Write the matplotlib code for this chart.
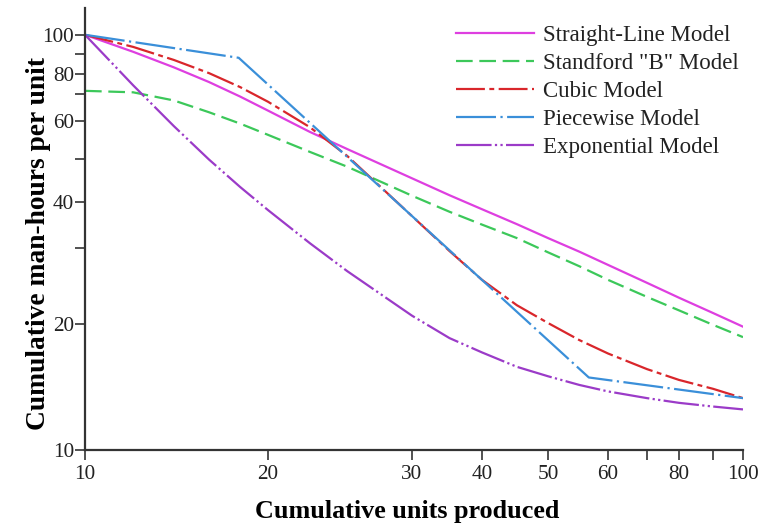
import numpy as np
import matplotlib
matplotlib.use("Agg")
import matplotlib.pyplot as plt
from matplotlib.ticker import FixedLocator, NullLocator

plt.rcParams['font.family'] = ['Liberation Serif', 'DejaVu Serif']

units = [10, 12, 14, 16, 18, 20, 22.5, 25, 30, 35, 40, 45, 50, 55, 60, 70, 80, 90, 100]
straight_line = [100, 91.0, 83.1, 75.7, 68.9, 63.6, 56.9, 52.4, 45.2, 41.4,
                 38.2, 34.8, 31.9, 29.4, 27.4, 24.9, 23.0, 21.2, 19.7]
stanford_b = [71.4, 70.7, 67.4, 63.0, 59.2, 56.1, 51.7, 48.0, 41.3, 37.6,
              34.7, 31.9, 29.3, 27.2, 25.3, 23.1, 21.5, 19.9, 18.6]
cubic = [100, 93.5, 86.8, 80.3, 73.2, 66.9, 58.2, 50.7, 36.6, 29.5,
         25.3, 22.1, 20.1, 18.3, 17.0, 15.6, 14.7, 14.0, 13.3]
exponential = [100, 74.1, 58.5, 49.8, 43.2, 38.0, 30.9, 26.5, 20.9, 18.5,
               17.1, 15.8, 15.0, 14.3, 13.8, 13.3, 12.96, 12.7, 12.5]
piecewise_units = [10, 17.9, 56.6, 100]
piecewise = [100, 87.9, 14.9, 13.3]

x_ticks = [10, 20, 30, 40, 50, 60, 70, 80, 90, 100]
x_tick_labels = ["10", "20", "30", "40", "50", "60", "", "80", "", "100"]
y_ticks = [10, 20, 30, 40, 50, 60, 70, 80, 90, 100]
y_tick_labels = ["10", "20", "", "40", "", "60", "", "80", "", "100"]

# the printed axes are not an exact log scale: tick spacing as measured
x_tick_pos = [0, 183, 327, 397, 463, 523, 562, 594, 628, 658]
y_tick_pos = [0, 126, 202, 248, 291, 329, 356, 376, 396, 415]


def make_scale(vals, pos):
    lv = np.log10(vals)
    pos = np.asarray(pos, dtype=float)
    p_lo = pos[0] - (pos[1] - pos[0]) / (lv[1] - lv[0])
    p_hi = pos[-1] + (pos[-1] - pos[-2]) / (lv[-1] - lv[-2])
    lv_ext = np.r_[lv[0] - 1, lv, lv[-1] + 1]
    p_ext = np.r_[p_lo, pos, p_hi]

    def forward(v):
        v = np.asarray(v, dtype=float)
        return np.interp(np.log10(np.clip(v, 1e-6, None)), lv_ext, p_ext)

    def inverse(p):
        return 10 ** np.interp(np.asarray(p, dtype=float), p_ext, lv_ext)

    return forward, inverse


fig = plt.figure(figsize=(7.6, 5.28), dpi=100)
ax = fig.add_axes([85 / 760, 1 - 450 / 528, 658 / 760, 442 / 528])

ax.set_xscale('function', functions=make_scale(x_ticks, x_tick_pos))
ax.set_yscale('function', functions=make_scale(y_ticks, y_tick_pos))

lw = 1.6
ax.plot(units, straight_line, color='#de3fe0', lw=lw, label='Straight-Line Model')
ax.plot(units, stanford_b, color='#3cc85a', lw=lw, linestyle=(0, (7.5, 3)),
        label='Standford "B" Model')
ax.plot(units, cubic, color='#d9262b', lw=lw, linestyle=(0, (13, 2, 2.2, 2)),
        label='Cubic Model')
ax.plot(piecewise_units, piecewise, color='#3a8fd9', lw=lw,
        linestyle=(0, (18, 2, 1, 2)), label='Piecewise Model')
ax.plot(units, exponential, color='#9b3bc8', lw=lw,
        linestyle=(0, (16, 1.5, 1, 1.5, 1, 1.5)), label='Exponential Model')

ax.set_xlim(10, 100)
ax.set_ylim(10, 116)

ax.xaxis.set_major_locator(FixedLocator(x_ticks))
ax.xaxis.set_minor_locator(NullLocator())
ax.set_xticklabels(x_tick_labels)
ax.yaxis.set_major_locator(FixedLocator(y_ticks))
ax.yaxis.set_minor_locator(NullLocator())
ax.set_yticklabels(y_tick_labels)

for side in ['top', 'right']:
    ax.spines[side].set_visible(False)
for side in ['left', 'bottom']:
    ax.spines[side].set_linewidth(1.6)
    ax.spines[side].set_color('#333333')

ax.tick_params(axis='both', direction='out', length=7, width=1.2,
               colors='#333333', labelsize=15.3)
ax.tick_params(axis='x', pad=4)
ax.tick_params(axis='y', pad=1)
for lab in ax.get_xticklabels() + ax.get_yticklabels():
    lab.set_color('#222222')

ax.set_xlabel('Cumulative units produced', fontsize=18.8, fontweight='bold')
ax.set_ylabel('Cumulative man-hours per unit', fontsize=19.8, fontweight='bold')
ax.xaxis.set_label_coords(0.49, -0.112)
ax.yaxis.set_label_coords(-0.052, 0.467)

leg = ax.legend(loc='upper left', bbox_to_anchor=(456 / 760, 1 - 25 / 528),
                bbox_transform=fig.transFigure, frameon=False, fontsize=16.5,
                handlelength=3.4, handletextpad=0.39, labelspacing=0.3,
                borderpad=0, borderaxespad=0)
for t in leg.get_texts():
    t.set_color('#222222')

fig.savefig('out.png', dpi=100)
